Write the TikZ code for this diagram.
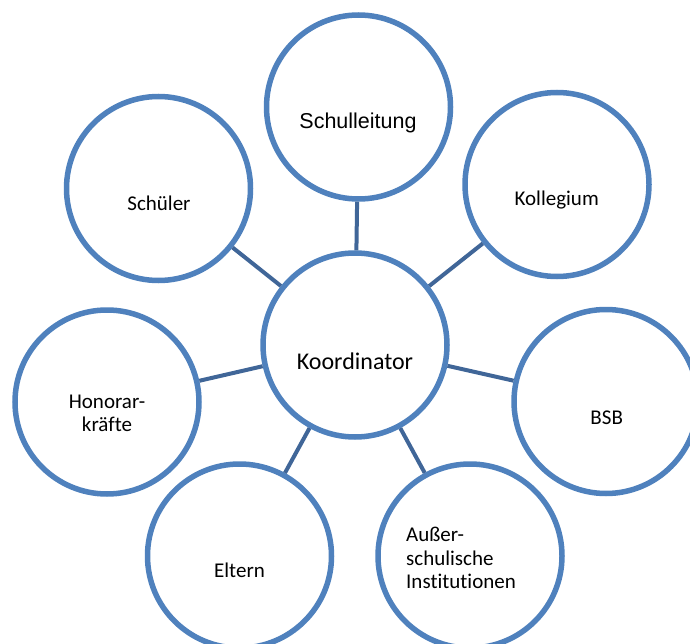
\documentclass[tikz,border=0pt]{standalone}
\usepackage{fontspec}
\setmainfont[Ligatures=NoCommon]{Carlito}
\newfontfamily\arialfont{Liberation Sans}
\definecolor{kreisblau}{RGB}{79,129,189}
\definecolor{linienblau}{RGB}{64,102,152}
\begin{document}
\begin{tikzpicture}[x=1pt,y=-1pt]
	\tikzset{kreis/.style={circle,draw=kreisblau,line width=5.5pt,fill=white,minimum size=184pt,inner sep=0pt},
		verbinder/.style={draw=linienblau,line width=4pt},
		txt/.style={inner sep=0pt,anchor=base,font=\fontsize{21}{23.3}\selectfont}}
	\useasboundingbox (0,0) rectangle (690,644);
	\clip (0,0) rectangle (690,644);
	% Kreise
	\node[kreis] (koord) at (355,345) {};
	\foreach \n/\x/\y in {schulleitung/358.5/107,kollegium/557/184.5,schueler/158.5/188.5,honorar/107/402,bsb/606/401.5,eltern/239.5/556,ausser/470/556}
	\node[kreis] (\n) at (\x,\y) {};
	% Verbindungen
	\foreach \n in {schulleitung,kollegium,schueler,honorar,bsb,eltern,ausser}
	\draw[verbinder] (koord) -- (\n);
	% Texte (mehrzeilig: Grundlinie der letzten Zeile)
	\node[txt,font=\fontsize{24}{28}\selectfont] (t-koord) at (355,369.3) {Koordinator};
	\node[txt,font=\arialfont\fontsize{21.5}{24}\selectfont] (t-schulleitung) at (358,128.3) {Schulleitung};
	\node[txt] (t-kollegium) at (556.7,206) {Kollegium};
	\node[txt] (t-schueler) at (159,210.7) {Schüler};
	\node[txt] (t-bsb) at (606.7,424) {BSB};
	\node[txt] (t-eltern) at (239.5,577.3) {Eltern};
	\node[txt,align=center] (t-honorar) at (107,431.7) {Honorar-\\kräfte};
	\node[txt,align=left,anchor=base west] (t-ausser) at (406,588.3) {Außer-\\schulische\\Institutionen};
\end{tikzpicture}
\end{document}
